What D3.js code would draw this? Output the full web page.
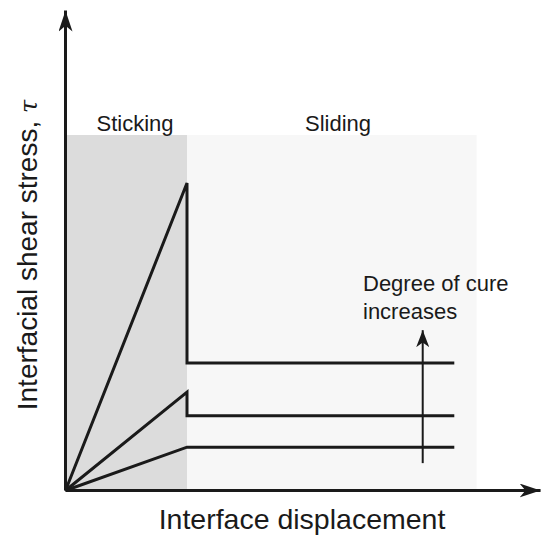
<!DOCTYPE html>
<html>
<head>
<meta charset="utf-8">
<script src="https://cdn.jsdelivr.net/npm/d3@7"></script>
<style>
  html, body { margin: 0; padding: 0; background: #fff; }
  text { font-family: "Liberation Sans", Arial, Helvetica, sans-serif; fill: #1a1a1a; }
</style>
</head>
<body>
<svg id="chart" width="542" height="536"></svg>
<script>
// ---- data (arbitrary units, schematic) ----
const regions = [
  { name: "Sticking", x0: 0, x1: 1.0, color: "#dcdcdc" },
  { name: "Sliding",  x0: 1.0, x1: 3.384, color: "#f7f7f7" }
];
const regionTop = 10;
const stickEnd = 1.0;          // displacement where sticking ends
const lineEnd = 3.2;           // end of plotted curves
const peaks = [8.65, 2.77, 1.22];      // peak stress at end of sticking
const residual = [3.59, 2.10, 1.22];   // sliding stress level
const arrowX = 2.94, arrowFrom = 0.77, arrowTo = 4.51;
const xAxisMax = 3.91, yAxisMax = 13.5;
const xLabel = "Interface displacement";
const yLabel = "Interfacial shear stress, ";
const yLabelSymbol = "\u03c4";
const noteLines = ["Degree of cure", "increases"];

// ---- scales ----
const x = d3.scaleLinear().domain([0, 1]).range([65.5, 187]);
const y = d3.scaleLinear().domain([0, 1]).range([490.5, 490.5 - 35.55]);

const svg = d3.select("#chart");
const ink = "#1a1a1a";

// arrowhead marker
const defs = svg.append("defs");
function marker(id, len, w) {
  defs.append("marker")
    .attr("id", id)
    .attr("markerUnits", "userSpaceOnUse")
    .attr("viewBox", `${-len} ${-w/2} ${len} ${w}`)
    .attr("refX", 0).attr("refY", 0)
    .attr("markerWidth", len).attr("markerHeight", w)
    .attr("orient", "auto")
    .append("path")
    .attr("d", `M0,0 L${-len},${-w/2} L${-len*0.72},0 L${-len},${w/2} Z`)
    .attr("fill", ink);
}
marker("axisArrow", 21, 14);
marker("smallArrow", 17, 13);

// regions
svg.selectAll("rect.region").data(regions).enter().append("rect")
  .attr("class", "region")
  .attr("x", d => x(d.x0))
  .attr("width", d => x(d.x1) - x(d.x0))
  .attr("y", y(regionTop))
  .attr("height", y(0) - y(regionTop))
  .attr("fill", d => d.color);

const labelCenters = { Sticking: 135, Sliding: 338 };
svg.selectAll("text.region").data(regions).enter().append("text")
  .attr("class", "region")
  .attr("x", d => labelCenters[d.name])
  .attr("y", y(regionTop) - 4)
  .attr("text-anchor", "middle")
  .attr("font-size", 22)
  .text(d => d.name);

// curves
const line = d3.line().x(d => x(d[0])).y(d => y(d[1]));
const curves = peaks.map((p, i) => [[0, 0], [stickEnd, p], [stickEnd, residual[i]], [lineEnd, residual[i]]]);
svg.selectAll("path.curve").data(curves).enter().append("path")
  .attr("class", "curve")
  .attr("d", line)
  .attr("fill", "none")
  .attr("stroke", ink)
  .attr("stroke-width", 3)
  .attr("stroke-linejoin", "miter")
  .attr("stroke-miterlimit", 3);

// "degree of cure" arrow
svg.append("line")
  .attr("x1", x(arrowX)).attr("x2", x(arrowX))
  .attr("y1", y(arrowFrom)).attr("y2", y(arrowTo))
  .attr("stroke", ink).attr("stroke-width", 2)
  .attr("marker-end", "url(#smallArrow)");

svg.selectAll("text.note").data(noteLines).enter().append("text")
  .attr("class", "note")
  .attr("x", 363)
  .attr("y", (d, i) => 291 + i * 28)
  .attr("font-size", 22)
  .text(d => d);

// axes
svg.append("line")
  .attr("x1", x(0)).attr("y1", y(0)).attr("x2", x(xAxisMax)).attr("y2", y(0))
  .attr("stroke", ink).attr("stroke-width", 3)
  .attr("marker-end", "url(#axisArrow)");
svg.append("line")
  .attr("x1", x(0)).attr("y1", y(0)).attr("x2", x(0)).attr("y2", y(yAxisMax))
  .attr("stroke", ink).attr("stroke-width", 3)
  .attr("marker-end", "url(#axisArrow)");

// axis labels
svg.append("text")
  .attr("x", 302).attr("y", 529)
  .attr("text-anchor", "middle")
  .attr("font-size", 28.5)
  .text(xLabel);
const yl = svg.append("text")
  .attr("transform", "translate(37,255) rotate(-90)")
  .attr("text-anchor", "middle")
  .attr("font-size", 28);
yl.append("tspan").text(yLabel);
yl.append("tspan").attr("font-style", "italic").attr("font-family", "'DejaVu Serif', serif").attr("font-size", 24).text(yLabelSymbol);
</script>
</body>
</html>
